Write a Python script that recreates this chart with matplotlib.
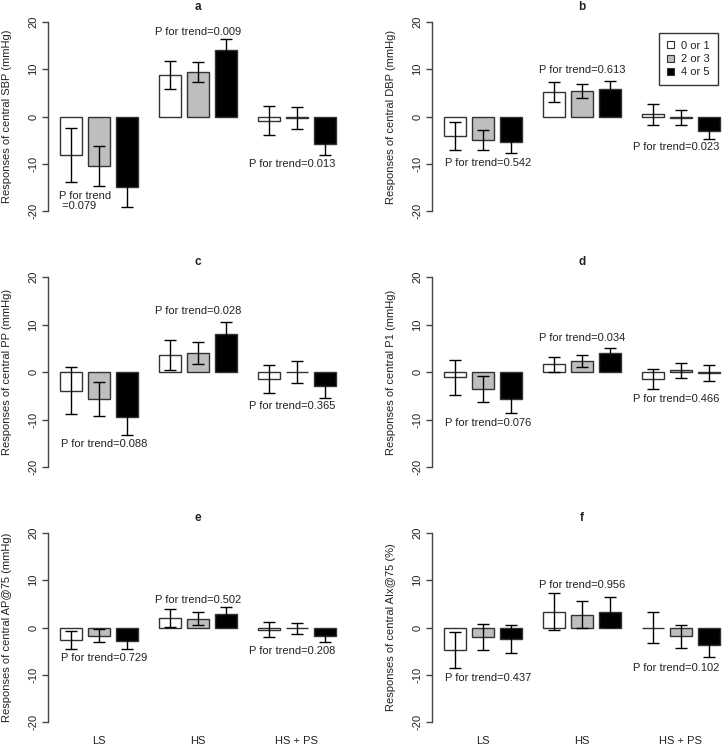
import matplotlib
matplotlib.use('Agg')
from matplotlib import pyplot as plt
from matplotlib.patches import Patch
import numpy as np

plt.rcParams['font.family'] = ['Liberation Sans', 'DejaVu Sans']
plt.rcParams['axes.unicode_minus'] = False

# groups on the x axis and the three score levels
groups = ['LS', 'HS', 'HS + PS']
levels = ['0 or 1', '2 or 3', '4 or 5']
level_colors = ['white', '#bebebe', 'black']

# mean responses (rows: LS, HS, HS + PS; cols: 0 or 1, 2 or 3, 4 or 5) and error bars
sbp_mean = [[-8.1, -10.5, -14.9], [8.8, 9.4, 14.0], [-0.9, -0.3, -5.8]]
sbp_err = [[5.7, 4.2, 4.3], [3.0, 2.2, 2.3], [3.05, 2.3, 2.4]]
sbp_p = ['P for trend\n =0.079', 'P for trend=0.009', 'P for trend=0.013']

dbp_mean = [[-4.2, -5.0, -5.5], [5.2, 5.35, 5.9], [0.45, -0.25, -3.0]]
dbp_err = [[2.95, 2.15, 2.25], [2.1, 1.5, 1.6], [2.2, 1.65, 1.8]]
dbp_p = ['P for trend=0.542', 'P for trend=0.613', 'P for trend=0.023']

pp_mean = [[-3.9, -5.7, -9.5], [3.5, 4.0, 8.1], [-1.4, 0.0, -3.0]]
pp_err = [[4.9, 3.6, 3.7], [3.15, 2.35, 2.4], [2.95, 2.25, 2.4]]
pp_p = ['P for trend=0.088', 'P for trend=0.028', 'P for trend=0.365']

p1_mean = [[-1.1, -3.55, -5.7], [1.6, 2.25, 3.9], [-1.55, 0.35, -0.2]]
p1_err = [[3.7, 2.7, 2.9], [1.6, 1.25, 1.25], [2.1, 1.6, 1.75]]
p1_p = ['P for trend=0.076', 'P for trend=0.034', 'P for trend=0.466']

ap_mean = [[-2.6, -1.7, -2.9], [2.05, 1.85, 2.9], [-0.5, -0.2, -1.9]]
ap_err = [[1.95, 1.45, 1.55], [1.9, 1.4, 1.5], [1.6, 1.2, 1.2]]
ap_p = ['P for trend=0.729', 'P for trend=0.502', 'P for trend=0.208']

aix_mean = [[-4.75, -2.0, -2.4], [3.35, 2.7, 3.3], [0.0, -1.9, -3.75]]
aix_err = [[3.8, 2.8, 2.95], [3.9, 2.9, 3.1], [3.2, 2.45, 2.5]]
aix_p = ['P for trend=0.437', 'P for trend=0.956', 'P for trend=0.102']

# where each P-for-trend note sits (x, y in data units) for LS, HS, HS + PS
sbp_p_pos = [(0.66, -17.9), (5.77, 17.8), (10.07, -10.1)]
dbp_p_pos = [(1.52, -9.8), (5.77, 9.8), (10.07, -6.5)]
pp_p_pos = [(1.52, -15.1), (5.77, 12.8), (10.07, -7.1)]
p1_p_pos = [(1.52, -10.7), (5.77, 7.25), (10.07, -5.7)]
ap_p_pos = [(1.52, -6.55), (5.77, 5.9), (10.07, -5.0)]
aix_p_pos = [(1.52, -10.6), (5.77, 9.0), (10.07, -8.6)]

panels = [
    ('a', 'Responses of central SBP (mmHg)', sbp_mean, sbp_err, sbp_p, sbp_p_pos),
    ('b', 'Responses of central DBP (mmHg)', dbp_mean, dbp_err, dbp_p, dbp_p_pos),
    ('c', 'Responses of central PP (mmHg)', pp_mean, pp_err, pp_p, pp_p_pos),
    ('d', 'Responses of central P1 (mmHg)', p1_mean, p1_err, p1_p, p1_p_pos),
    ('e', 'Responses of central AP@75 (mmHg)', ap_mean, ap_err, ap_p, ap_p_pos),
    ('f', 'Responses of central AIx@75 (%)', aix_mean, aix_err, aix_p, aix_p_pos),
]

W, H = 722, 745
fig = plt.figure(figsize=(W / 100, H / 100), dpi=100)

# panel placement in pixels
col_left = [48, 432]
axes_w = 290
row_top = [22, 277, 533]
row_bot = [211, 467, 722]

bar_w = 1.0
bar_step = 1.27
group_step = 4.5
x_left = -1.045
x_right = x_left + axes_w / 22

text_color = '#222222'

for i, (tag, ylabel, means, errs, ptext, ppos) in enumerate(panels):
    row, col = divmod(i, 2)
    left = col_left[col] / W
    bottom = 1 - row_bot[row] / H
    height = (row_bot[row] - row_top[row]) / H
    ax = fig.add_axes([left, bottom, axes_w / W, height])

    means = np.array(means)
    errs = np.array(errs)
    for g in range(len(groups)):
        for k in range(len(levels)):
            x = g * group_step + k * bar_step
            ax.bar(x, means[g, k], width=bar_w, color=level_colors[k],
                   edgecolor='#333333', linewidth=1.0, zorder=2)
            ax.errorbar(x, means[g, k], yerr=errs[g, k], color='black',
                        elinewidth=1.0, capsize=4.3, capthick=1.0, zorder=3)

    for g in range(len(groups)):
        ax.text(ppos[g][0], ppos[g][1], ptext[g], ha='center', va='center',
                multialignment='left', fontsize=8, color=text_color, linespacing=1.05)

    ax.set_xlim(x_left, x_right)
    ax.set_ylim(-20, 20)
    for side in ['top', 'right', 'bottom']:
        ax.spines[side].set_visible(False)
    ax.spines['left'].set_color('#444444')
    ax.spines['left'].set_linewidth(1.0)
    ax.set_yticks([-20, -10, 0, 10, 20])
    ax.tick_params(axis='y', length=4, width=1.0, color='#444444', pad=3,
                   labelsize=8, labelcolor=text_color, labelrotation=90)
    for lbl in ax.get_yticklabels():
        lbl.set_va('center')

    centers = [g * group_step + bar_step for g in range(len(groups))]
    if row == 2:
        ax.set_xticks(centers)
        ax.set_xticklabels(groups)
        ax.tick_params(axis='x', length=0, pad=10, labelsize=8, labelcolor=text_color)
    else:
        ax.set_xticks([])

    ax.text(-41 / axes_w, 0.5, ylabel, transform=ax.transAxes, rotation=90,
            ha='center', va='center', fontsize=8, color=text_color)
    ax.text(centers[1], 1 + 15 / 189, tag, transform=ax.get_xaxis_transform(),
            ha='center', va='center', fontsize=8.5, fontweight='bold', color=text_color)

    if tag == 'b':
        handles = [Patch(facecolor=c, edgecolor='#333333', linewidth=0.8) for c in level_colors]
        leg = ax.legend(handles, levels, loc='upper right',
                        bbox_to_anchor=(286 / axes_w, 1 - 11 / 189),
                        fontsize=8, frameon=True, fancybox=False,
                        handlelength=0.6, handleheight=0.6, handletextpad=0.7,
                        labelspacing=0.3, borderpad=0.7, borderaxespad=0)
        leg.get_frame().set_edgecolor('black')
        leg.get_frame().set_linewidth(1.0)
        for t in leg.get_texts():
            t.set_color(text_color)

fig.savefig('out.png', dpi=100)
